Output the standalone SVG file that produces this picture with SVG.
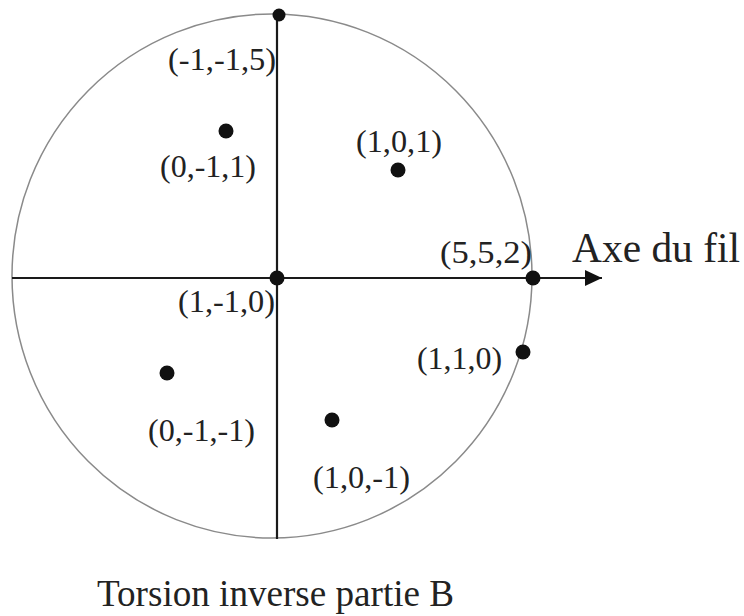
<svg xmlns="http://www.w3.org/2000/svg" width="744" height="616" viewBox="0 0 744 616">
<style>
.lbl{font-family:"Liberation Serif","Times New Roman",serif;font-size:32px;fill:#222}
.big{font-family:"Liberation Serif","Times New Roman",serif;font-size:42px;fill:#222}
.cap{font-family:"Liberation Serif","Times New Roman",serif;font-size:37px;fill:#222}
.dot{fill:#111}
.axis{stroke:#1a1a1a;stroke-width:2.2;fill:none}
</style>
<defs>
<marker id="arr" markerWidth="18" markerHeight="16" refX="17" refY="8" orient="auto" markerUnits="userSpaceOnUse">
<path d="M0,0 L17,8 L0,16 Z" fill="#111"/>
</marker>
</defs>
<rect width="744" height="616" fill="#fff"/>
<ellipse id="circle" cx="272" cy="276" rx="260" ry="262" fill="none" stroke="#8a8a8a" stroke-width="1.5"/>
<g id="connectors">
<line class="axis" x1="277" y1="13" x2="277" y2="539"/>
<line class="axis" x1="12" y1="278" x2="602" y2="278" marker-end="url(#arr)"/>
</g>
<g id="n-115"><circle class="dot" cx="279" cy="15" r="6.5"/><text class="lbl" x="168" y="70" textLength="108" lengthAdjust="spacingAndGlyphs">(-1,-1,5)</text></g>
<g id="n011"><circle class="dot" cx="226" cy="131" r="7.5"/><text class="lbl" x="160" y="177" textLength="96" lengthAdjust="spacingAndGlyphs">(0,-1,1)</text></g>
<g id="n101"><circle class="dot" cx="398" cy="170" r="7.5"/><text class="lbl" x="356" y="152" textLength="86" lengthAdjust="spacingAndGlyphs">(1,0,1)</text></g>
<g id="n110m"><circle class="dot" cx="277" cy="278" r="7.5"/><text class="lbl" x="178" y="312" textLength="97" lengthAdjust="spacingAndGlyphs">(1,-1,0)</text></g>
<g id="n552"><circle class="dot" cx="533" cy="278" r="7.5"/><text class="lbl" x="440" y="263" textLength="92" lengthAdjust="spacingAndGlyphs">(5,5,2)</text></g>
<g id="n110"><circle class="dot" cx="523" cy="352" r="7.5"/><text class="lbl" x="417" y="369" textLength="85" lengthAdjust="spacingAndGlyphs">(1,1,0)</text></g>
<g id="n0m1m1"><circle class="dot" cx="167" cy="373" r="7.5"/><text class="lbl" x="148" y="441" textLength="107" lengthAdjust="spacingAndGlyphs">(0,-1,-1)</text></g>
<g id="n10m1"><circle class="dot" cx="332" cy="420" r="7.5"/><text class="lbl" x="313" y="488" textLength="97" lengthAdjust="spacingAndGlyphs">(1,0,-1)</text></g>
<g id="axe"><text class="big" x="572" y="262" textLength="168" lengthAdjust="spacingAndGlyphs">Axe du fil</text></g>
<g id="title"><text class="cap" x="97" y="606" textLength="357" lengthAdjust="spacingAndGlyphs">Torsion inverse partie B</text></g>
</svg>
